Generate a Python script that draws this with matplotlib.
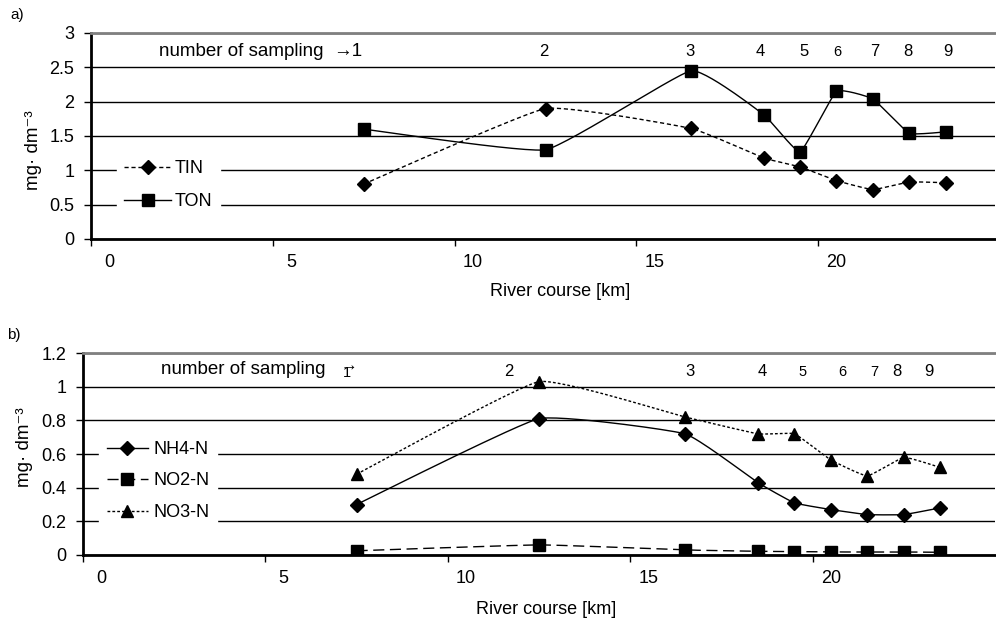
import matplotlib.pyplot as plt
import numpy as np

plt.rcParams['font.family'] = ['Liberation Sans', 'DejaVu Sans']

# sampling points along the river (km)
km = [7, 12, 16, 18, 19, 20, 21, 22, 23]

# a) total inorganic / organic nitrogen
tin = [0.80, 1.90, 1.61, 1.18, 1.05, 0.85, 0.72, 0.83, 0.82]
ton = [1.60, 1.30, 2.45, 1.81, 1.27, 2.15, 2.04, 1.54, 1.56]

# b) nitrogen forms
nh4 = [0.30, 0.81, 0.72, 0.43, 0.31, 0.27, 0.24, 0.24, 0.28]
no2 = [0.025, 0.06, 0.03, 0.022, 0.02, 0.018, 0.018, 0.018, 0.016]
no3 = [0.48, 1.03, 0.82, 0.72, 0.72, 0.565, 0.47, 0.58, 0.52]

# sampling number labels: text, x position, font size
samp_a = ['2', '3', '4', '5', '6', '7', '8', '9']
samp_a_x = [11.96, 15.97, 17.9, 19.1, 20.02, 21.06, 21.97, 23.07]
samp_a_fs = [12, 12, 12, 12, 10.5, 12, 12, 12]
samp_b = ['2', '3', '4', '5', '6', '7', '8', '9']
samp_b_x = [11.17, 16.13, 18.11, 19.21, 20.31, 21.19, 21.82, 22.7]
samp_b_fs = [12, 12, 12, 10.5, 10.5, 10.5, 12, 12]


def smooth(x, y, k=0.06, n=30):
    # lightly smoothed line through the points (bezier, short handles)
    P = np.column_stack([np.asarray(x, float), np.asarray(y, float)])
    out = []
    for i in range(len(P) - 1):
        p0 = P[i - 1] if i > 0 else P[i]
        p1 = P[i]
        p2 = P[i + 1]
        p3 = P[i + 2] if i + 2 < len(P) else P[i + 1]
        c1 = p1 + (p2 - p0) * k
        c2 = p2 - (p3 - p1) * k
        t = np.linspace(0, 1, n)[:, None]
        seg = ((1 - t) ** 3) * p1 + 3 * ((1 - t) ** 2) * t * c1 + 3 * (1 - t) * t ** 2 * c2 + t ** 3 * p2
        out.append(seg if i == 0 else seg[1:])
    s = np.vstack(out)
    return s[:, 0], s[:, 1]


def style_axes(ax, ymax, ystep, xmax):
    ax.set_xlim(-0.5, xmax)
    ax.set_ylim(0, ymax)
    ax.set_yticks(np.arange(0, ymax + ystep / 2, ystep))
    ax.yaxis.grid(True, color='black', lw=1.0)
    ax.set_axisbelow(True)
    ax.spines['right'].set_visible(False)
    ax.spines['top'].set_color('#808080')
    ax.spines['top'].set_linewidth(2)
    ax.spines['left'].set_linewidth(2)
    ax.spines['bottom'].set_linewidth(2)
    ax.set_xticks([-0.5, 4.5, 9.5, 14.5, 19.5])
    ax.set_xticklabels([])
    ax.set_xticks([0, 5, 10, 15, 20], minor=True)
    ax.set_xticklabels(['0', '5', '10', '15', '20'], minor=True)
    ax.tick_params(axis='x', which='major', direction='out', length=5, width=1)
    ax.tick_params(axis='x', which='minor', length=0, pad=11, labelsize=13)
    ax.tick_params(axis='y', direction='out', length=5, width=1, pad=7, labelsize=13)
    ax.set_yticklabels([('%g' % v) for v in ax.get_yticks()])


fig = plt.figure(figsize=(9.96, 6.19), dpi=100)

# panel a
ax1 = fig.add_axes([0.0914, 0.6139, 0.9076, 0.3328])
style_axes(ax1, 3, 0.5, 24.36)
sx, sy = smooth(km, tin)
ax1.plot(sx, sy, color='black', lw=1, ls=(0, (3, 2)))
ax1.plot(km, tin, ls='none', marker='D', ms=7.5, color='black')
sx, sy = smooth(km, ton)
ax1.plot(sx, sy, color='black', lw=1)
ax1.plot(km, ton, ls='none', marker='s', ms=9, color='black')
ax1.plot([], [], color='black', lw=1, ls=(0, (3, 2)), marker='D', ms=7, label='TIN')
ax1.plot([], [], color='black', lw=1, marker='s', ms=9, label='TON')
ax1.legend(loc='upper left', bbox_to_anchor=(0.019, 0.46), fontsize=13,
           frameon=True, facecolor='white', edgecolor='white', framealpha=1,
           fancybox=False, handlelength=2.6, labelspacing=0.85, borderpad=0.4,
           handletextpad=0.2)
ax1.text(5.88, 2.73, 'number of sampling', ha='right', va='center', fontsize=13.5)
ax1.text(6.95, 2.73, '\u21921', ha='right', va='center', fontsize=13.5)
for t, x, fs in zip(samp_a, samp_a_x, samp_a_fs):
    ax1.text(x, 2.73, t, ha='center', va='center', fontsize=fs)
ax1.set_xlabel('River course [km]', fontsize=13)
ax1.xaxis.set_label_coords(0.519, -0.215)
ax1.set_ylabel('mg\u00b7 dm\u207b\u00b3', fontsize=13.5)
ax1.yaxis.label.set_va('center')
ax1.yaxis.set_label_coords(-0.064, 0.43)
fig.text(0.010, 0.975, 'a)', fontsize=11, va='center')

# panel b
ax2 = fig.add_axes([0.0833, 0.1034, 0.9157, 0.3263])
style_axes(ax2, 1.2, 0.2, 24.5)
sx, sy = smooth(km, nh4)
ax2.plot(sx, sy, color='black', lw=1)
ax2.plot(km, nh4, ls='none', marker='D', ms=7.5, color='black')
sx, sy = smooth(km, no2)
ax2.plot(sx, sy, color='black', lw=1, ls=(0, (8, 4)))
ax2.plot(km, no2, ls='none', marker='s', ms=8.5, color='black')
sx, sy = smooth(km, no3)
ax2.plot(sx, sy, color='black', lw=1, ls=(0, (2, 1.5)))
ax2.plot(km, no3, ls='none', marker='^', ms=9, color='black')
ax2.plot([], [], color='black', lw=1, marker='D', ms=7, label='NH4-N')
ax2.plot([], [], color='black', lw=1, ls=(0, (8, 4)), marker='s', ms=8.5, label='NO2-N')
ax2.plot([], [], color='black', lw=1, ls=(0, (2, 1.5)), marker='^', ms=9, label='NO3-N')
ax2.legend(loc='upper left', bbox_to_anchor=(0.008, 0.645), fontsize=13,
           frameon=True, facecolor='white', edgecolor='white', framealpha=1,
           fancybox=False, handlelength=2.3, labelspacing=0.8, borderpad=0.4,
           handletextpad=0.3)
ax2.text(6.15, 1.1, 'number of sampling', ha='right', va='center', fontsize=13.5)
ax2.text(6.73, 1.08, '1', ha='center', va='center', fontsize=10.5)
ax2.text(6.78, 1.12, '\u2192', ha='center', va='center', fontsize=12)
for t, x, fs in zip(samp_b, samp_b_x, samp_b_fs):
    ax2.text(x, 1.09, t, ha='center', va='center', fontsize=fs)
ax2.set_xlabel('River course [km]', fontsize=13)
ax2.xaxis.set_label_coords(0.508, -0.228)
ax2.set_ylabel('mg\u00b7 dm\u207b\u00b3', fontsize=13.5)
ax2.yaxis.label.set_va('center')
ax2.yaxis.set_label_coords(-0.0636, 0.535)
fig.text(0.007, 0.458, 'b)', fontsize=11, va='center')

fig.savefig('out.png', dpi=100)
